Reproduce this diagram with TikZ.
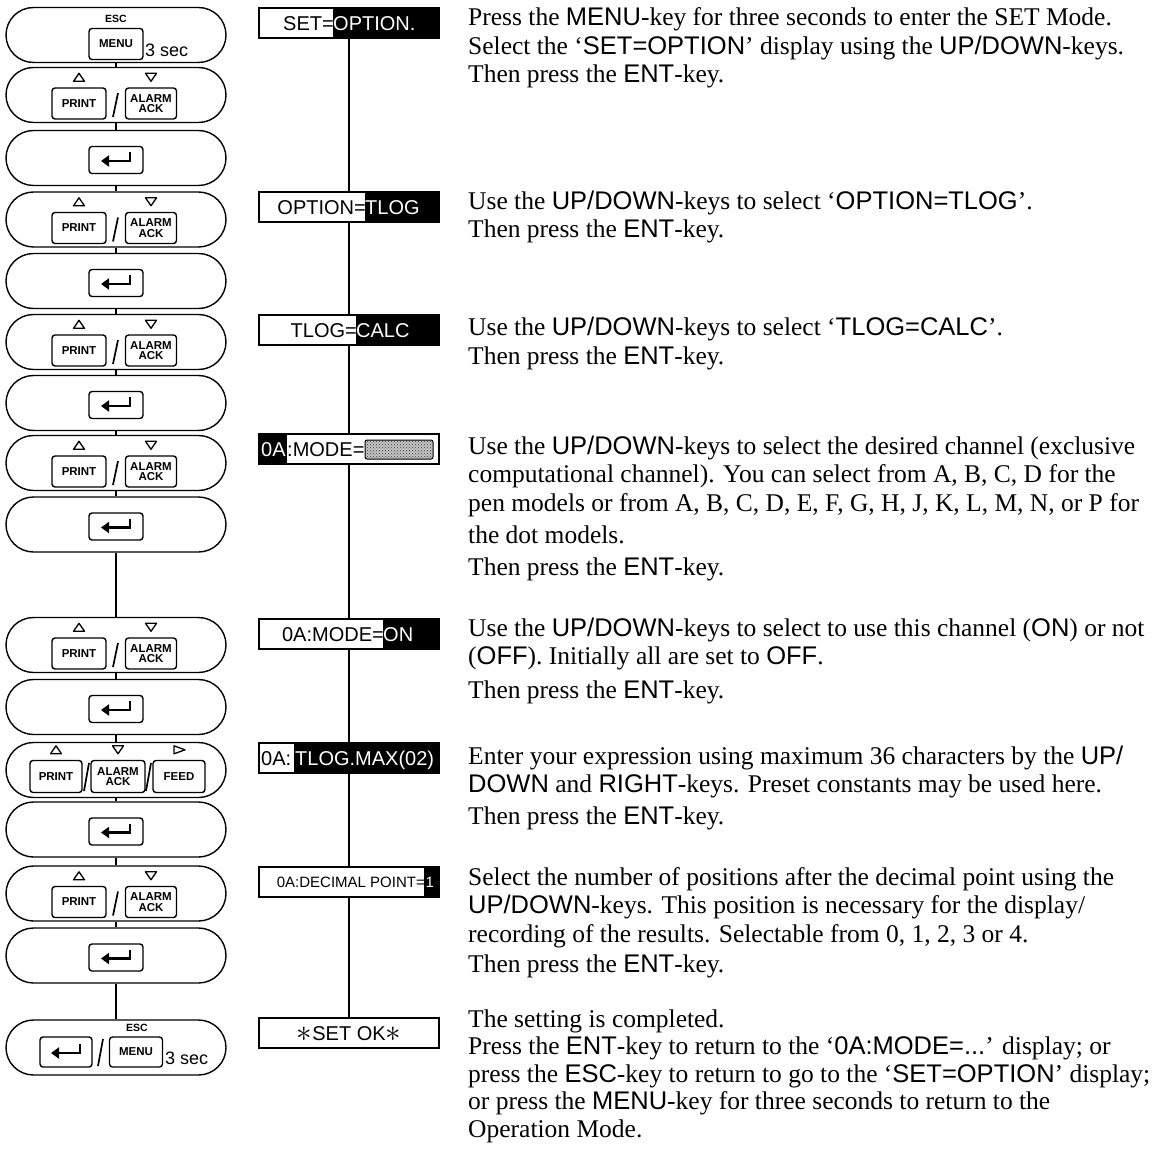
\documentclass[tikz,border=0pt]{standalone}
\usepackage{fontspec}
\setmainfont{Liberation Serif}
\setsansfont{Liberation Sans}
\usetikzlibrary{shapes.misc,arrows.meta,patterns}

% parole in carattere bastoni dentro il testo
\newcommand\sk[1]{{\sffamily #1}}

% triangolini sopra i tasti
\newcommand\uptri[1]{\draw[line width=1.3pt, line join=round]
  ([shift={(-5.5,-6)}]#1.north) -- ([shift={(5.5,-6)}]#1.north) -- ([shift={(0,-14)}]#1.north) -- cycle;}
\newcommand\downtri[1]{\draw[line width=1.3pt, line join=round]
  ([shift={(-5.5,-14)}]#1.north) -- ([shift={(5.5,-14)}]#1.north) -- ([shift={(0,-6)}]#1.north) -- cycle;}
\newcommand\righttri[1]{\draw[line width=1.3pt, line join=round]
  ([shift={(-5,-14)}]#1.north) -- ([shift={(-5,-6)}]#1.north) -- ([shift={(6,-10)}]#1.north) -- cycle;}

% freccia del tasto ENT
\newcommand\enterglyph[1]{\draw[line width=2.8pt, {Triangle[length=8pt,width=11pt]}-]
  ([shift={(-15,1)}]#1.center) -- ([shift={(14,1)}]#1.center) -- ([shift={(14,-8)}]#1.center);}

% riga PRINT / ALARM ACK
\newcommand\updownrow[2]{%
  \node[oval] (#1) at (116,#2) {};
  \node[keycap, minimum width=54pt] (#1a) at (79,#2+8.5) {PRINT};
  \node[keycap, minimum width=51pt] (#1b) at (151,#2+8.5) {ALARM\\ACK};
  \draw[line width=1.7pt] (118,#2-2) -- (113,#2+22);
  \uptri{#1a}\downtri{#1b}}

% riga ENT
\newcommand\enterrow[2]{%
  \node[oval] (#1) at (116,#2) {};
  \node[keycap, minimum width=54pt, minimum height=27pt] (#1a) at (116,#2+2) {};
  \enterglyph{#1a}}

\begin{document}
\begin{tikzpicture}[x=1pt,y=-1pt,
  oval/.style={rounded rectangle, draw, line width=1.4pt, minimum width=220pt, minimum height=55pt, inner sep=0pt},
  keycap/.style={draw, rounded corners=3pt, line width=1.4pt, minimum height=31pt, inner sep=0pt,
    align=center, font=\sffamily\bfseries\fontsize{11.5}{10.5}\selectfont},
  keylbl/.style={inner sep=0pt, font=\sffamily\bfseries\fontsize{10.5}{10.5}\selectfont},
  secs/.style={anchor=base west, inner sep=0pt, font=\sffamily\fontsize{18}{18}\selectfont},
  disp/.style={draw, line width=1.3pt, minimum width=180pt, minimum height=30pt, inner sep=0pt},
  dtext/.style={inner sep=0pt, font=\sffamily\fontsize{20}{20}\selectfont},
  note/.style={anchor=base west, align=left, inner sep=0pt, font=\fontsize{25.5}{28.5}\selectfont},
  flow/.style={line width=1.3pt}]

\useasboundingbox (0,0) rectangle (1151,1166);

% ---------------- Tasti ----------------
% MENU 3 sec
\node[oval] (k1) at (116,35) {};
\node[keycap, minimum width=54pt] (k1a) at (116,44) {MENU};
\node[keylbl] (k1esc) at (116,19) {ESC};
\node[secs] (k1s) at (145,57) {3 sec};

\updownrow{k2}{95}
\enterrow{k3}{158}
\updownrow{k4}{219.5}
\enterrow{k5}{281}
\updownrow{k6}{342}
\enterrow{k7}{403}
\updownrow{k8}{463}
\enterrow{k9}{524.5}
\updownrow{k10}{645}
\enterrow{k11}{707}

% PRINT / ALARM ACK / FEED
\node[oval] (k12) at (116,770) {};
\node[keycap, minimum width=52pt, minimum height=32pt] (k12a) at (56,776.5) {PRINT};
\node[keycap, minimum width=54pt, minimum height=32pt] (k12b) at (118,776.5) {ALARM\\ACK};
\node[keycap, minimum width=52pt, minimum height=32pt] (k12c) at (179,776.5) {FEED};
\draw[line width=1.7pt] (89,763) -- (84,791);
\draw[line width=1.7pt] (151,763) -- (146,791);
\uptri{k12a}\downtri{k12b}\righttri{k12c}

\enterrow{k13}{829.5}
\updownrow{k14}{893.5}
\enterrow{k15}{955.5}

% ENT / MENU 3 sec
\node[oval] (k16) at (116,1047.5) {};
\node[keycap, minimum width=52pt, minimum height=30pt] (k16a) at (66,1052) {};
\enterglyph{k16a}
\node[keycap, minimum width=53pt, minimum height=30pt] (k16b) at (136,1052) {MENU};
\draw[line width=1.7pt] (103,1039) -- (98,1066);
\node[keylbl] (k16esc) at (137,1028) {ESC};
\node[secs] (k16s) at (165,1064) {3 sec};

% linea verticale dei tasti
\foreach \a [evaluate=\a as \b using int(\a+1)] in {1,...,15}
  \draw[flow] (k\a) -- (k\b);

% ---------------- Display ----------------
% SET=OPTION.
\fill (333,8) rectangle (439,38);
\node[disp] (d1) at (349,23) {};
\node[dtext, anchor=base east] at (334,30.5) {SET=};
\node[dtext, anchor=base west, text=white] at (333,30.5) {OPTION.};

% OPTION=TLOG
\fill (365,192) rectangle (439,222);
\node[disp] (d2) at (349,207) {};
\node[dtext, anchor=base east] at (366,214.5) {OPTION=};
\node[dtext, anchor=base west, text=white] at (365,214.5) {TLOG};

% TLOG=CALC
\fill (356,315) rectangle (439,345);
\node[disp] (d3) at (349,330) {};
\node[dtext, anchor=base east] at (357,337.5) {TLOG=};
\node[dtext, anchor=base west, text=white] at (356,337.5) {CALC};

% 0A:MODE=
\fill (259,434) rectangle (287,464);
\node[disp] (d4) at (349,449) {};
\node[dtext, anchor=base west, text=white] at (261,456.5) {0A};
\node[dtext, anchor=base west] at (287,456.5) {:MODE=};
\fill[gray!45, rounded corners=2pt] (365,440) rectangle (433,459);
\draw[line width=1pt, rounded corners=2pt, pattern=crosshatch dots, pattern color=black!80]
  (365,440) rectangle (433,459);

% 0A:MODE=ON
\fill (383,619) rectangle (439,649);
\node[disp] (d5) at (349,634) {};
\node[dtext, anchor=base east] at (384,641.5) {0A:MODE=};
\node[dtext, anchor=base west, text=white] at (383,641.5) {ON};

% 0A:TLOG.MAX(02)
\fill (294,743) rectangle (439,773);
\node[disp] (d6) at (349,758) {};
\node[dtext, anchor=base west] at (261,765.5) {0A:};
\node[dtext, anchor=base west, text=white] at (295,765.5) {TLOG.MAX(02)};

% 0A:DECIMAL POINT=1
\fill (424,867) rectangle (439,897);
\node[disp] (d7) at (349,882) {};
\node[dtext, anchor=base east, font=\sffamily\fontsize{15}{15}\selectfont] at (425,887.5) {0A:DECIMAL POINT=};
\node[dtext, anchor=base west, text=white, font=\sffamily\fontsize{15}{15}\selectfont] at (425.5,887.5) {1};

% * SET OK *
\node[disp] (d8) at (349,1033) {};
\node[dtext, anchor=base] at (349,1040.5) {\raisebox{-1pt}{\scalebox{1.5}{$\ast$}}SET OK\raisebox{-1pt}{\scalebox{1.5}{$\ast$}}};

% linea verticale dei display
\draw[flow] (d1) -- (d2) -- (d3) -- (d4) -- (d5) -- (d6) -- (d7) -- (d8);

% ---------------- Testi ----------------
% (ancora sulla linea di base dell'ultima riga)
\node[note] (t1) at (468,83) {Press the \sk{MENU}-key for three seconds to enter the SET Mode.\\
  Select the ‘\sk{SET=OPTION}’ display using the \sk{UP/DOWN}-keys.\\
  Then press the \sk{ENT}-key.};

\node[note] (t2) at (468,238) {Use the \sk{UP/DOWN}-keys to select ‘\sk{OPTION=TLOG}’.\\
  Then press the \sk{ENT}-key.};

\node[note] (t3) at (468,364) {Use the \sk{UP/DOWN}-keys to select ‘\sk{TLOG=CALC}’.\\
  Then press the \sk{ENT}-key.};

\node[note] (t4) at (468,575) {Use the \sk{UP/DOWN}-keys to select the desired channel (exclusive\\
  computational channel). You can select from A, B, C, D for the\\
  pen models or from A, B, C, D, E, F, G, H, J, K, L, M, N, or P for\\[3.5pt]
  the dot models.\\[3.5pt]
  Then press the \sk{ENT}-key.};

\node[note] (t5) at (468,698) {Use the \sk{UP/DOWN}-keys to select to use this channel (\sk{ON}) or not\\
  (\sk{OFF}). Initially all are set to \sk{OFF}.\\[5pt]
  Then press the \sk{ENT}-key.};

\node[note] (t6) at (468,824) {Enter your expression using maximum 36 characters by the \sk{UP/}\\
  \sk{DOWN} and \sk{RIGHT}-keys. Preset constants may be used here.\\[3pt]
  Then press the \sk{ENT}-key.};

\node[note] (t7) at (468,972) {Select the number of positions after the decimal point using the\\
  \sk{UP/DOWN}-keys. This position is necessary for the display/\\
  recording of the results. Selectable from 0, 1, 2, 3 or 4.\\[1.5pt]
  Then press the \sk{ENT}-key.};

\node[note, font=\fontsize{25.5}{27.5}\selectfont] (t8) at (468,1137) {The setting is completed.\\
  Press the \sk{ENT}-key to return to the ‘\sk{0A:MODE=...}’ display; or\\
  press the \sk{ESC}-key to return to go to the ‘\sk{SET=OPTION}’ display;\\
  or press the \sk{MENU}-key for three seconds to return to the\\
  Operation Mode.};

\end{tikzpicture}
\end{document}
